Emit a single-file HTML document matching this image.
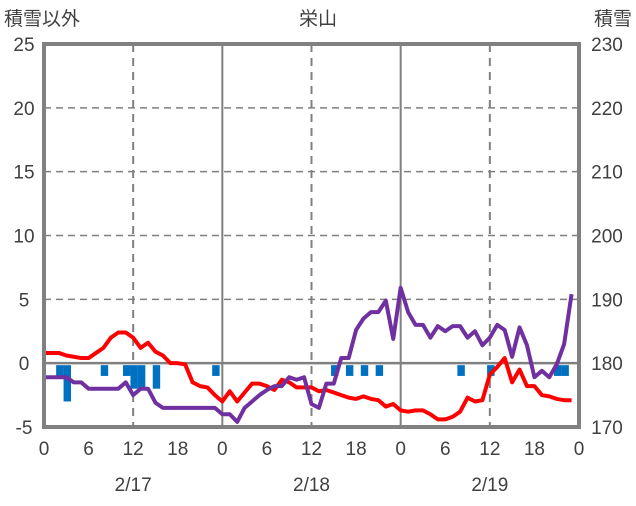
<!DOCTYPE html>
<html><head><meta charset="utf-8"><style>
body{margin:0;background:#fff;width:636px;height:501px;overflow:hidden;font-family:"Liberation Sans","Noto Sans CJK JP",sans-serif;}
svg text{font-family:"Liberation Sans","Noto Sans CJK JP",sans-serif;fill:#404040;font-size:19px;}
</style></head><body>
<svg id="chart" width="636" height="501" viewBox="0 0 636 501">
<g id="grid"></g><g id="bars"></g><g id="lines"></g><g id="axes"></g>
</svg>
<script>
const hours=[0,1,2,3,4,5,6,7,8,9,10,11,12,13,14,15,16,17,18,19,20,21,22,23,24,25,26,27,28,29,30,31,32,33,34,35,36,37,38,39,40,41,42,43,44,45,46,47,48,49,50,51,52,53,54,55,56,57,58,59,60,61,62,63,64,65,66,67,68,69,70,71];
const temp=[0.8,0.8,0.8,0.6,0.5,0.4,0.4,0.8,1.2,2.0,2.4,2.4,2.0,1.2,1.6,0.9,0.6,0,0,-0.1,-1.5,-1.8,-1.9,-2.5,-3.0,-2.2,-3.0,-2.3,-1.6,-1.6,-1.8,-2.1,-1.3,-1.5,-1.9,-1.9,-1.9,-2.2,-2.1,-2.3,-2.5,-2.7,-2.8,-2.6,-2.8,-2.9,-3.4,-3.2,-3.7,-3.8,-3.7,-3.7,-4.0,-4.4,-4.4,-4.2,-3.8,-2.7,-3.0,-2.9,-0.9,-0.3,0.4,-1.5,-0.5,-1.8,-1.8,-2.5,-2.6,-2.8,-2.9,-2.9];
const snow=[177.8,177.8,177.8,177.8,177,177,176,176,176,176,176,177,175,176,176,173.8,173,173,173,173,173,173,173,173,172,172,170.8,173,174,175,175.8,176.4,176.4,177.8,177.4,177.8,173.6,173,176.8,176.8,180.8,180.8,185.2,187,188,188,189.8,183.8,191.8,188,186,186,184,185.8,185,185.8,185.8,184,185,182.8,184,186,185.2,181,185.6,182.8,177.8,178.8,177.8,179.8,183,190.8];
const precip=[0,0,1,3,0,0,0,0,1,0,0,1,2,2,0,2,0,0,0,0,0,0,0,1,0,0,0,0,0,0,0,0,0,0,0,0,0,0,0,1,0,1,0,1,0,1,0,0,0,0,0,0,0,0,0,0,1,0,0,0,1,0,0,0,0,0,0,0,0,1,1,0];
const leftTicks=[25,20,15,10,5,0,-5];
const rightTicks=[230,220,210,200,190,180,170];
const xTicks=[0,6,12,18,0,6,12,18,0,6,12,18,0];
const dates=["2/17","2/18","2/19"];
const L=44,R=579,T=44,B=427,NS="http://www.w3.org/2000/svg";
const x=h=>L+(R-L)*h/72;
const y=v=>B-(v+5)*(B-T)/30;
const ys=s=>B-(s-170)*(B-T)/60;
function mk(tag,attrs,parent){const e=document.createElementNS(NS,tag);for(const k in attrs)e.setAttribute(k,attrs[k]);parent.appendChild(e);return e;}
const grid=document.getElementById('grid'),bars=document.getElementById('bars'),lines=document.getElementById('lines'),axes=document.getElementById('axes');
[20,15,10,5].forEach(v=>{const e=mk('line',{x1:L,x2:R,y1:y(v),y2:y(v),stroke:'#808080','stroke-width':1.5,'stroke-dasharray':'7,5'},grid);

});
[12,36,60].forEach(h=>{const e=mk('line',{x1:x(h),x2:x(h),y1:T,y2:B,stroke:'#808080','stroke-width':2,'stroke-dasharray':'8,6'},grid);

});
[24,48].forEach(h=>{const e=mk('line',{x1:x(h),x2:x(h),y1:T,y2:B,stroke:'#808080','stroke-width':2},grid);

});
const z=mk('line',{x1:L,x2:R,y1:y(0),y2:y(0),stroke:'#808080','stroke-width':2.5},grid);


const bw=(R-L)/72;
precip.forEach((p,i)=>{if(!p)return;const e=mk('rect',{x:x(hours[i])-bw/2+1,y:y(0)+2,width:bw,height:y(-p)-y(0)-2,fill:'#0070c0'},bars);

});
const tp=mk('polyline',{points:hours.map((h,i)=>x(h)+','+y(temp[i])).join(' '),fill:'none',stroke:'#ff0000','stroke-width':4,'stroke-linejoin':'round'},lines);


const sp=mk('polyline',{points:hours.map((h,i)=>x(h)+','+ys(snow[i])).join(' '),fill:'none',stroke:'#7030a0','stroke-width':4,'stroke-linejoin':'round'},lines);


const fr=mk('rect',{x:L,y:T,width:R-L,height:B-T,fill:'none',stroke:'#808080','stroke-width':4},axes);


leftTicks.forEach(v=>{const t=mk('text',{x:24,y:y(v)+7,'text-anchor':'middle'},axes);t.textContent=v;

});
rightTicks.forEach(v=>{const t=mk('text',{x:607,y:ys(v)+7,'text-anchor':'middle'},axes);t.textContent=v;

});
xTicks.forEach((v,i)=>{const t=mk('text',{x:x(i*6),y:455,'text-anchor':'middle'},axes);t.textContent=v;

});
dates.forEach((d,i)=>{const t=mk('text',{x:x(12+24*i),y:491,'text-anchor':'middle'},axes);t.textContent=d;

});
</script>
<svg style="position:absolute;left:0;top:0" width="636" height="40">
<text x="4" y="25">積雪以外</text>
<text x="318" y="25" text-anchor="middle">栄山</text>
<text x="632" y="25" text-anchor="end">積雪</text>
</svg>
</body></html>
